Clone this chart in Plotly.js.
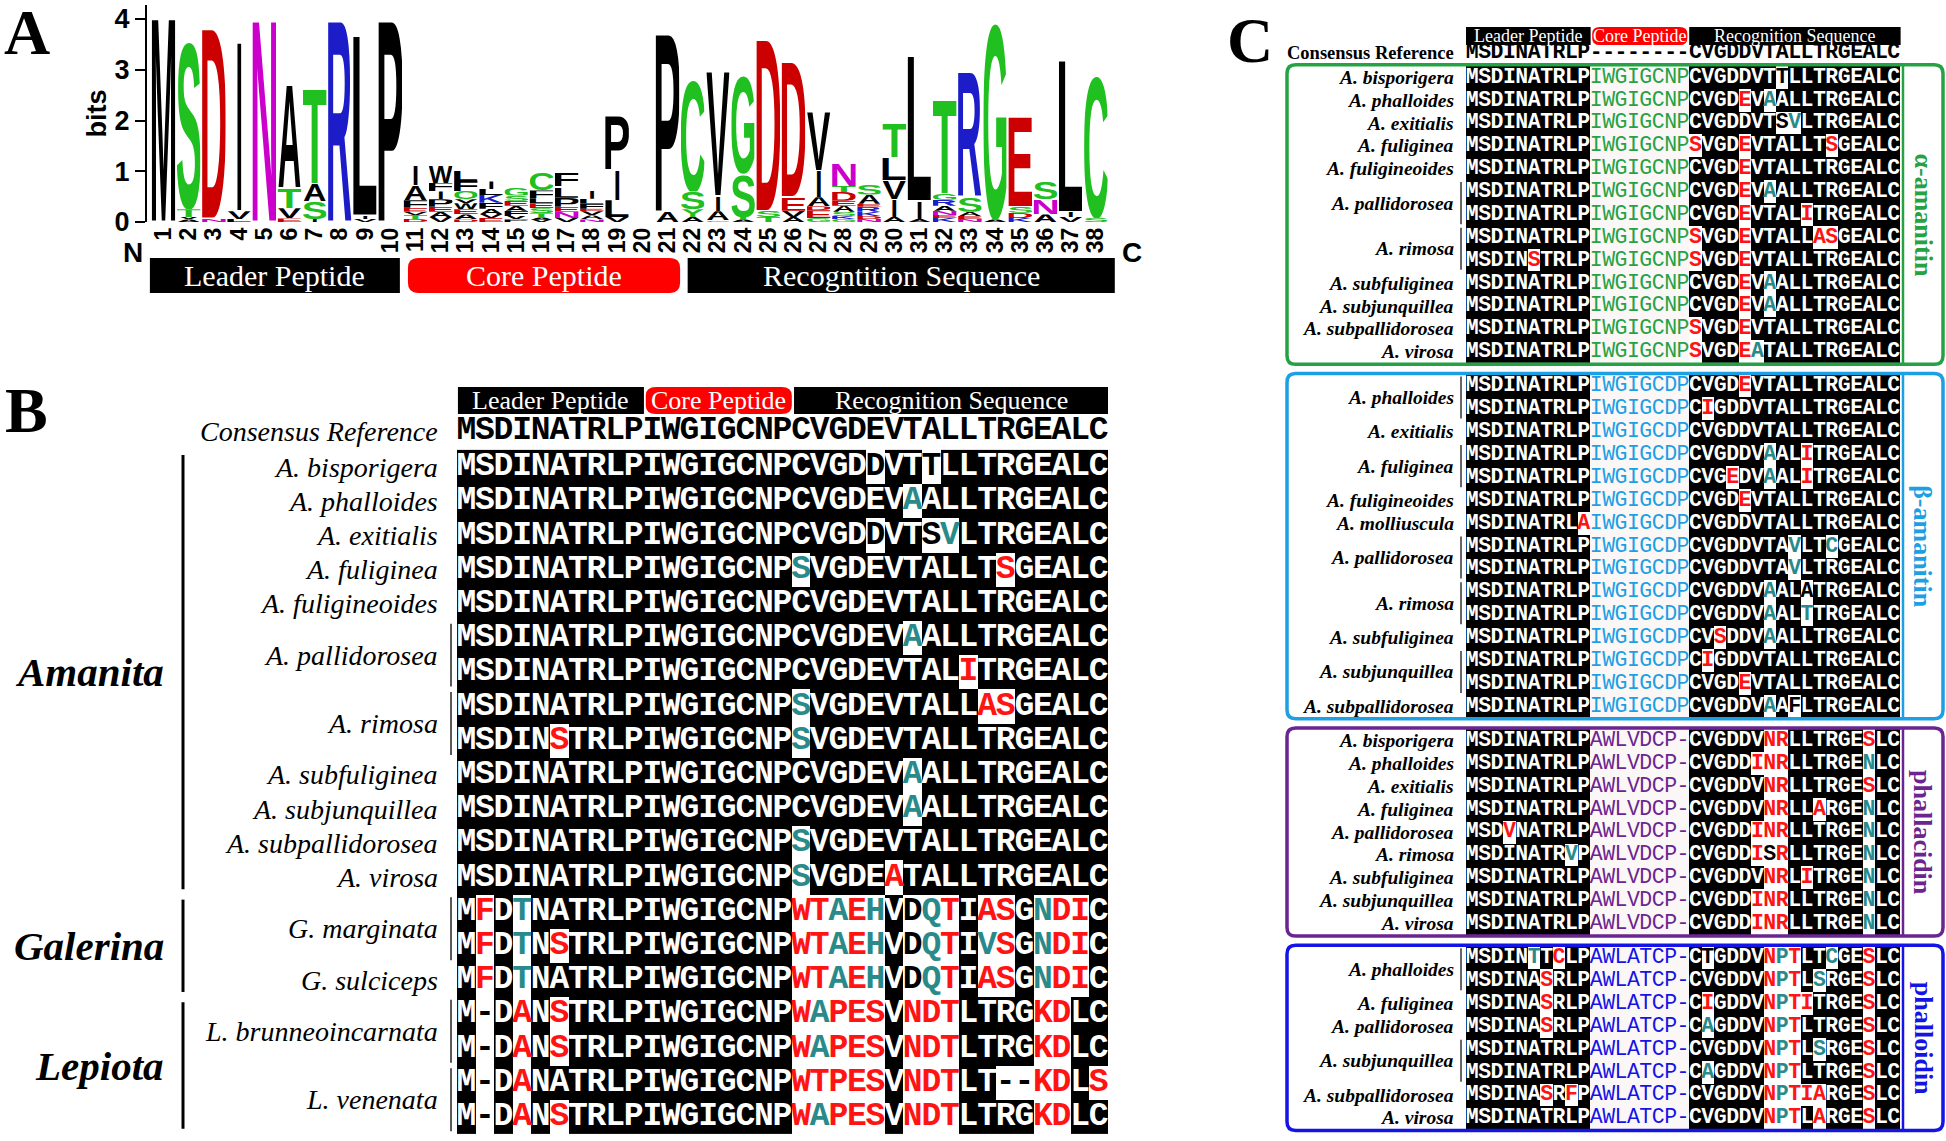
<!DOCTYPE html>
<html>
<head>
<meta charset="utf-8">
<script src="https://cdn.plot.ly/plotly-3.0.1.min.js"></script>
<style>
html,body{margin:0;padding:0;background:#ffffff;}
#chart{width:1946px;height:1141px;}
</style>
</head>
<body>
<div id="chart"></div>
<script>
// ======================= DATA =======================
// Panel A: sequence logo, letters listed bottom -> top, heights in bits
const logoPositions = [1,2,3,4,5,6,7,8,9,10,11,12,13,14,15,16,17,18,19,20,21,22,23,24,25,26,27,28,29,30,31,32,33,34,35,36,37,38];
const logoLetters = [
  ['M'], ['A','V','T','S'], ['N','D'], ['L','V','I'], ['N'],
  ['E','V','T','A'], ['I','S','A','T'], ['R'], ['V','I','L'], ['P'],
  ['D','T','V','E','F','A','I'], ['V','A','E','P','I','F','W'], ['D','A','E','W','V','Q','F','L'],
  ['E','V','A','F','K','L','I'], ['P','V','F','A','E','S','G'], ['V','A','T','S','E','L','F','C'],
  ['V','N','E','P','L','F'], ['N','A','V','E','F','L','I'], ['V','L','I','P'], [],
  ['A','P'], ['A','Y','S','C'], ['G','A','I','V'], ['A','T','S','G'], ['T','S','D'],
  ['A','V','E','D'], ['G','E','D','A','I','V'], ['G','K','S','A','E','D','T','N'],
  ['N','D','K','R','E','A','S'], ['A','I','V','L','T'], ['A','I','L'],
  ['K','E','N','A','R','G','T'], ['N','E','A','S','R'], ['A','G'], ['K','D','S','E'],
  ['A','N','S'], ['V','I','L'], ['S','C']
];
const logoHeights = [
  [4.15], [0.05,0.05,0.15,3.35], [0.06,3.88], [0.06,0.15,3.45], [4.1],
  [0.07,0.2,0.4,2.1], [0.06,0.35,0.35,1.94], [4.1], [0.06,0.06,3.68], [4.1],
  [0.06,0.08,0.06,0.08,0.15,0.3,0.4], [0.1,0.1,0.1,0.15,0.15,0.17,0.35], [0.05,0.1,0.1,0.12,0.08,0.16,0.2,0.2],
  [0.08,0.08,0.1,0.12,0.15,0.12,0.15], [0.05,0.07,0.1,0.1,0.1,0.1,0.15], [0.04,0.05,0.08,0.1,0.1,0.1,0.15,0.35],
  [0.08,0.12,0.1,0.18,0.22,0.27], [0.05,0.08,0.08,0.05,0.1,0.1,0.15], [0.1,0.33,0.6,1.07], [],
  [0.2,3.63], [0.1,0.15,0.35,2.25], [0.03,0.18,0.3,2.55], [0.05,0.05,0.85,1.95], [0.1,0.12,3.5],
  [0.1,0.12,0.27,2.76], [0.08,0.15,0.08,0.18,0.52,1.18], [0.06,0.06,0.08,0.12,0.1,0.17,0.12,0.45],
  [0.06,0.06,0.08,0.1,0.06,0.18,0.2], [0.1,0.35,0.38,0.45,0.69], [0.06,0.35,2.95],
  [0.08,0.06,0.08,0.1,0.12,0.12,1.91], [0.06,0.06,0.08,0.3,2.53], [0.05,3.95], [0.08,0.1,0.12,1.83],
  [0.15,0.3,0.35], [0.1,0.1,3.1], [0.08,2.85]
];
const logoRegions = ['Leader Peptide','Core Peptide','Recogntition Sequence'];

// Panel B: alignment; marks = "column+code" (r: red, t: teal, k: black on white)
const bRegions = ['Leader Peptide','Core Peptide','Recognition Sequence'];
const bConsensus = 'MSDINATRLPIWGIGCNPCVGDEVTALLTRGEALC';
const bSequences = [
  'MSDINATRLPIWGIGCNPCVGDDVTTLLTRGEALC',
  'MSDINATRLPIWGIGCNPCVGDEVAALLTRGEALC',
  'MSDINATRLPIWGIGCNPCVGDDVTSVLTRGEALC',
  'MSDINATRLPIWGIGCNPSVGDEVTALLTSGEALC',
  'MSDINATRLPIWGIGCNPCVGDEVTALLTRGEALC',
  'MSDINATRLPIWGIGCNPCVGDEVAALLTRGEALC',
  'MSDINATRLPIWGIGCNPCVGDEVTALITRGEALC',
  'MSDINATRLPIWGIGCNPSVGDEVTALLASGEALC',
  'MSDINSTRLPIWGIGCNPSVGDEVTALLTRGEALC',
  'MSDINATRLPIWGIGCNPCVGDEVAALLTRGEALC',
  'MSDINATRLPIWGIGCNPCVGDEVAALLTRGEALC',
  'MSDINATRLPIWGIGCNPSVGDEVTALLTRGEALC',
  'MSDINATRLPIWGIGCNPSVGDEATALLTRGEALC',
  'MFDTNATRLPIWGIGCNPWTAEHVDQTIASGNDIC',
  'MFDTNSTRLPIWGIGCNPWTAEHVDQTIVSGNDIC',
  'MFDTNATRLPIWGIGCNPWTAEHVDQTIASGNDIC',
  'M-DANSTRLPIWGIGCNPWAPESVNDTLTRGKDLC',
  'M-DANSTRLPIWGIGCNPWAPESVNDTLTRGKDLC',
  'M-DANATRLPIWGIGCNPWTPESVNDTLT--KDLS',
  'M-DANSTRLPIWGIGCNPWAPESVNDTLTRGKDLC'
];
const bMarks = [
  '22k,25k', '24t', '22k,25k,26t', '18t,29r', '', '24t', '27r', '18t,28r,29r', '5r,18t',
  '24t', '24t', '18t', '18t,23r',
  '1r,3t,18r,19r,20t,21r,22t,24k,25t,26r,28r,29r,31t,32r,33r',
  '1r,3t,5r,18r,19r,20t,21r,22t,24k,25t,26r,28t,29r,31t,32r,33r',
  '1r,3t,18r,19r,20t,21r,22t,24k,25t,26r,28r,29r,31t,32r,33r',
  '1k,3r,5r,18r,19t,20r,21r,22r,24r,25r,26r,31r,32r',
  '1k,3r,5r,18r,19t,20r,21r,22r,24r,25r,26r,31r,32r',
  '1k,3r,18r,19r,20r,21r,22r,24r,25r,26r,29k,30k,31r,32r,34r',
  '1k,3r,5r,18r,19t,20r,21r,22r,24r,25r,26r,31r,32r'
];
const bSpecies = ['A. bisporigera','A. phalloides','A. exitialis','A. fuliginea','A. fuligineoides',
  'A. pallidorosea','A. rimosa','A. subfuliginea','A. subjunquillea','A. subpallidorosea','A. virosa',
  'G. marginata','G. sulciceps','L. brunneoincarnata','L. venenata'];
const bSpeciesRows = [1,1,1,1,1,2,2,1,1,1,1,2,1,2,2];
const bGenera = ['Amanita','Galerina','Lepiota'];
const bGenusRows = [13,3,4];

// Panel C: alignment by toxin
const cConsensus = 'MSDINATRLP--------CVGDDVTALLTRGEALC';
const cGroupNames = ['α-amanitin','β-amanitin','phallacidin','phalloidin'];
const cAlphaSeqs = [
  'MSDINATRLPIWGIGCNPCVGDDVTTLLTRGEALC','MSDINATRLPIWGIGCNPCVGDEVAALLTRGEALC',
  'MSDINATRLPIWGIGCNPCVGDDVTSVLTRGEALC','MSDINATRLPIWGIGCNPSVGDEVTALLTSGEALC',
  'MSDINATRLPIWGIGCNPCVGDEVTALLTRGEALC','MSDINATRLPIWGIGCNPCVGDEVAALLTRGEALC',
  'MSDINATRLPIWGIGCNPCVGDEVTALITRGEALC','MSDINATRLPIWGIGCNPSVGDEVTALLASGEALC',
  'MSDINSTRLPIWGIGCNPSVGDEVTALLTRGEALC','MSDINATRLPIWGIGCNPCVGDEVAALLTRGEALC',
  'MSDINATRLPIWGIGCNPCVGDEVAALLTRGEALC','MSDINATRLPIWGIGCNPSVGDEVTALLTRGEALC',
  'MSDINATRLPIWGIGCNPSVGDEATALLTRGEALC'
];
const cAlphaMarks = ['25k','22r,24t','25k,26t','18r,22r,29r','22r','22r,24t','22r,27r','18r,22r,28r,29r',
  '5r,18r,22r','22r,24t','22r,24t','18r,22r','18r,22r,23t'];
const cAlphaNames = ['A. bisporigera','A. phalloides','A. exitialis','A. fuliginea','A. fuligineoides',
  'A. pallidorosea','A. rimosa','A. subfuliginea','A. subjunquillea','A. subpallidorosea','A. virosa'];
const cAlphaSpans = [1,1,1,1,1,2,2,1,1,1,1];

const cBetaSeqs = [
  'MSDINATRLPIWGIGCDPCVGDEVTALLTRGEALC','MSDINATRLPIWGIGCDPCIGDDVTALLTRGEALC',
  'MSDINATRLPIWGIGCDPCVGDDVTALLTRGEALC','MSDINATRLPIWGIGCDPCVGDDVAALITRGEALC',
  'MSDINATRLPIWGIGCDPCVGEDVAALITRGEALC','MSDINATRLPIWGIGCDPCVGDEVTALLTRGEALC',
  'MSDINATRLAIWGIGCDPCVGDDVTALLTRGEALC','MSDINATRLPIWGIGCDPCVGDDVTAVLTCGEALC',
  'MSDINATRLPIWGIGCDPCVGDDVTAVLTRGEALC','MSDINATRLPIWGIGCDPCVGDDVAALATRGEALC',
  'MSDINATRLPIWGIGCDPCVGDDVAALTTRGEALC','MSDINATRLPIWGIGCDPCVSDDVAALLTRGEALC',
  'MSDINATRLPIWGIGCDPCIGDDVTALLTRGEALC','MSDINATRLPIWGIGCDPCVGDEVTALLTRGEALC',
  'MSDINATRLPIWGIGCDPCVGDDVAAFLTRGEALC'
];
const cBetaMarks = ['22r','19r','','24t,27r','21r,24t,27r','22r','9r','26t,29t','26t','24t,27k','24t,27t',
  '20r,24t','19r','22r','24t,26k'];
const cBetaNames = ['A. phalloides','A. exitialis','A. fuliginea','A. fuligineoides','A. molliuscula',
  'A. pallidorosea','A. rimosa','A. subfuliginea','A. subjunquillea','A. subpallidorosea'];
const cBetaSpans = [2,1,2,1,1,2,2,1,2,1];

const cPhallacidinSeqs = [
  'MSDINATRLPAWLVDCP-CVGDDVNRLLTRGESLC','MSDINATRLPAWLVDCP-CVGDDINRLLTRGENLC',
  'MSDINATRLPAWLVDCP-CVGDDVNRLLTRGESLC','MSDINATRLPAWLVDCP-CVGDDVNRLLARGENLC',
  'MSDVNATRLPAWLVDCP-CVGDDINRLLTRGENLC','MSDINATRVPAWLVDCP-CVGDDISRLLTRGENLC',
  'MSDINATRLPAWLVDCP-CVGDDVNRLITRGENLC','MSDINATRLPAWLVDCP-CVGDDINRLLTRGENLC',
  'MSDINATRLPAWLVDCP-CVGDDINRLLTRGENLC'
];
const cPhallacidinMarks = ['24r,25r,32r','23r,24r,25r,32t','24r,25r,32r','24r,25r,28r,32t',
  '3r,23r,24r,25r,32t','8t,23r,24k,25r,32t','24r,25r,27r,32t','23r,24r,25r,32t','23r,24r,25r,32t'];
const cPhallacidinNames = ['A. bisporigera','A. phalloides','A. exitialis','A. fuliginea','A. pallidorosea',
  'A. rimosa','A. subfuliginea','A. subjunquillea','A. virosa'];
const cPhallacidinSpans = [1,1,1,1,1,1,1,1,1];

const cPhalloidinSeqs = [
  'MSDINTTCLPAWLATCP-CTGDDVNPTLTCGESLC','MSDINASRLPAWLATCP-CVGDDVNPTLSRGESLC',
  'MSDINASRLPAWLATCP-CIGDDVNPTITRGESLC','MSDINASRLPAWLATCP-CAGDDVNPTLTRGESLC',
  'MSDINATRLPAWLATCP-CVGDDVNPTLSRGESLC','MSDINATRLPAWLATCP-CAGDDVNPTLTRGESLC',
  'MSDINASRFPAWLATCP-CVGDDVNPTIARGESLC','MSDINATRLPAWLATCP-CVGDDVNPTLARGESLC'
];
const cPhalloidinMarks = ['5t,7r,19k,24r,25t,26r,29t,32r','6r,24r,25t,26r,28t,32r','6r,19r,24r,25t,26r,27r,32r',
  '6r,19t,24r,25t,26r,32r','24r,25t,26r,28t,32r','19t,24r,25t,26r,32r','6r,8r,24r,25t,26r,27r,28r,32r',
  '24r,25t,26r,28r,32r'];
const cPhalloidinNames = ['A. phalloides','A. fuliginea','A. pallidorosea','A. subjunquillea','A. subpallidorosea','A. virosa'];
const cPhalloidinSpans = [2,1,1,2,1,1];

// ======================= STYLE / GEOMETRY =======================
const W = 1946, H = 1141;
const SERIF = 'Liberation Serif, Times New Roman, serif';
const MONO = 'Liberation Mono, Courier New, monospace';
const SANS = 'Liberation Sans, Arial, Helvetica, sans-serif';
const RED = '#ff1414', TEAL = '#2a8a8a', CORE_RED = '#ff0000', CORE_BG = '#fcf7f7';
const MARK_COLOR = {'.':'#ffffff', r:RED, t:TEAL, k:'#000000'};
const GROUP_COLORS = ['#25a244','#1d9fe3','#6b2590','#1414e6'];

// pixel placement of each panel (value 0 at pixel p0, pitch per unit)
const LOGO_X0 = 138.3, LOGO_DX = 25.2, LOGO_BASE = 222, LOGO_BIT = 50.75;
const B_X0 = 466.3, B_DX = 18.6, B_Y0 = 467, B_DY = 34.2;
const C_X0 = 1472.2, C_DX = 12.4, C_Y0 = 77.3, C_DY = 22.87;
const NCOL = bConsensus.length;
const COLS = [...Array(NCOL).keys()];
const B_FONT = 33, C_FONT = 21.5;

function xRange(p0, d){ return [(0 - p0)/d, (W - p0)/d]; }
function yRangeDown(p0, d){ return [(H - p0)/d, (0 - p0)/d]; }
function parseMarks(s){ const m = {}; if(!s) return m; s.split(',').forEach(t => { m[parseInt(t,10)] = t.replace(/^\d+/, ''); }); return m; }
function roundedPath(x0,x1,y0,y1,rx,ry){
  return `M${x0+rx},${y0} L${x1-rx},${y0} Q${x1},${y0} ${x1},${y0+ry} L${x1},${y1-ry} Q${x1},${y1} ${x1-rx},${y1} `+
         `L${x0+rx},${y1} Q${x0},${y1} ${x0},${y1-ry} L${x0},${y0+ry} Q${x0},${y0} ${x0+rx},${y0} Z`;
}

const traces = [], shapes = [], annotations = [], images = [];
function ann(o){ annotations.push(Object.assign({showarrow:false}, o)); }

// ======================= PANEL A: LOGO =======================
const INK = {A:[0,722],C:[44,680],D:[76,674],E:[76,616],F:[76,570],G:[44,726],H:[74,648],I:[64,208],K:[76,716],
  L:[76,590],M:[70,763],N:[74,648],P:[76,620],Q:[40,740],R:[76,710],S:[30,628],T:[22,588],V:[0,667],W:[5,940],Y:[0,667]};
function logoColor(ch){
  if('DE'.includes(ch)) return '#cc0000';
  if('KRH'.includes(ch)) return '#1c1cc8';
  if('GSTYCQ'.includes(ch)) return '#21c021';
  if(ch === 'N') return '#cc00cc';
  return '#000000';
}
function glyphURI(ch, color){
  let [a,b] = INK[ch] || [40,680];
  a /= 10; b /= 10;
  if(ch === 'I'){ const c = (a+b)/2; a = c-46; b = c+46; }
  const svg = `<svg xmlns="http://www.w3.org/2000/svg" width="100" height="100" viewBox="${a} -71.8 ${b-a} 72.3" preserveAspectRatio="none">`+
    `<text x="0" y="0" font-family="Liberation Sans, Arial, Helvetica, sans-serif" font-weight="700" font-size="100" fill="${color}">${ch}</text></svg>`;
  return 'data:image/svg+xml;charset=utf-8,' + encodeURIComponent(svg);
}
const logoTotals = logoHeights.map(a => a.reduce((s,v)=>s+v,0));
logoPositions.forEach((p,i) => {
  let base = 0;
  logoLetters[i].forEach((ch,j) => {
    const h = logoHeights[i][j];
    images.push({source: glyphURI(ch, logoColor(ch)), xref:'x', yref:'y', x: p-0.5+0.035, y: base+h,
      sizex: 0.93, sizey: h, xanchor:'left', yanchor:'top', sizing:'stretch', layer:'above'});
    base += h;
  });
});
traces.push({type:'scatter', x: logoPositions, y: logoTotals, mode:'markers', marker:{opacity:0, size:1},
  xaxis:'x', yaxis:'y', hoverinfo:'skip'});
traces.push({type:'scatter', x:[], y:[], mode:'markers', xaxis:'x4', yaxis:'y4', hoverinfo:'skip'});

// header bars under logo (overlay axes x4/y4 share the logo scale)
const aBars = [[0.46,10.38],[10.7,21.5],[21.8,38.75]];
const aY0 = (LOGO_BASE-293)/LOGO_BIT, aY1 = (LOGO_BASE-258)/LOGO_BIT;
aBars.forEach((b,i) => {
  if(i === 1){
    shapes.push({type:'path', xref:'x4', yref:'y4', path: roundedPath(b[0],b[1],aY0,aY1,0.4,0.2), fillcolor:CORE_RED, line:{width:0}});
  } else {
    shapes.push({type:'rect', xref:'x4', yref:'y4', x0:b[0], x1:b[1], y0:aY0, y1:aY1, fillcolor:'#000000', line:{width:0}});
  }
  ann({xref:'x4', yref:'y4', x:(b[0]+b[1])/2, y:(aY0+aY1)/2, text:logoRegions[i], font:{family:SERIF, size:30, color:'#ffffff'}, xanchor:'center', yanchor:'middle'});
});
ann({xref:'x4', yref:'y4', x:(133-LOGO_X0)/LOGO_DX, y:(LOGO_BASE-252)/LOGO_BIT, text:'N', font:{family:SANS, size:28, weight:'bold', color:'#000'}, xanchor:'center', yanchor:'middle'});
ann({xref:'x4', yref:'y4', x:(1132-LOGO_X0)/LOGO_DX, y:(LOGO_BASE-252)/LOGO_BIT, text:'C', font:{family:SANS, size:28, weight:'bold', color:'#000'}, xanchor:'center', yanchor:'middle'});

// ======================= PANEL B =======================
const bZ = [], bY = [];
const bTX = [], bTY = [], bTS = [], bTC = [];
bSequences.forEach((seq, r) => {
  const m = parseMarks(bMarks[r]);
  const zr = [];
  for(let c = 0; c < seq.length; c++){
    const code = m[c] || '.';
    zr.push(code === '.' ? 1 : 0);
    bTX.push(c); bTY.push(r); bTS.push(seq[c]); bTC.push(MARK_COLOR[code]);
  }
  bZ.push(zr); bY.push(r);
});
traces.push({type:'heatmap', x: COLS, y: bY, z: bZ, xaxis:'x2', yaxis:'y2', zmin:0, zmax:1,
  colorscale:[[0,'#ffffff'],[0.5,'#ffffff'],[0.5,'#000000'],[1,'#000000']], showscale:false, hoverinfo:'skip'});
traces.push({type:'scatter', mode:'text', x: bTX, y: bTY, text: bTS, xaxis:'x2', yaxis:'y2', hoverinfo:'skip',
  textposition:'middle center', textfont:{family:MONO, size:B_FONT, weight:'bold', color: bTC}});
const bConsY = (431 - B_Y0)/B_DY;
traces.push({type:'scatter', mode:'text', x: COLS, y: COLS.map(()=>bConsY), text: bConsensus.split(''), xaxis:'x2', yaxis:'y2',
  hoverinfo:'skip', textposition:'middle center', textfont:{family:MONO, size:B_FONT, weight:'bold', color:'#000000'}});
ann({xref:'x2', yref:'y2', x:(440-B_X0)/B_DX, y:bConsY, text:'Consensus Reference', xanchor:'right', yanchor:'middle',
  font:{family:SERIF, size:28, style:'italic', color:'#000'}});

// header bars
const bHY0 = (387 - B_Y0)/B_DY, bHY1 = (414 - B_Y0)/B_DY;
const bBars = [[-0.45,9.55],[9.65,17.5],[17.62,34.5]];
bBars.forEach((b,i) => {
  if(i === 1){
    shapes.push({type:'path', xref:'x2', yref:'y2', path: roundedPath(b[0],b[1],bHY0,bHY1,0.55,0.25), fillcolor:CORE_RED, line:{width:0}});
  } else {
    shapes.push({type:'rect', xref:'x2', yref:'y2', x0:b[0], x1:b[1], y0:bHY0, y1:bHY1, fillcolor:'#000000', line:{width:0}});
  }
  ann({xref:'x2', yref:'y2', x:(b[0]+b[1])/2, y:(bHY0+bHY1)/2, text:bRegions[i], xanchor:'center', yanchor:'middle',
    font:{family:SERIF, size:26, color:'#ffffff'}});
});
// species labels and brackets
{
  let r = 0;
  bSpecies.forEach((name, i) => {
    const n = bSpeciesRows[i];
    ann({xref:'x2', yref:'y2', x:(440-B_X0)/B_DX, y: r + (n-1)/2, text:name, xanchor:'right', yanchor:'middle',
      font:{family:SERIF, size:28, style:'italic', color:'#000'}});
    if(n > 1){
      shapes.push({type:'line', xref:'x2', yref:'y2', x0:(451-B_X0)/B_DX, x1:(451-B_X0)/B_DX, y0:r-0.42, y1:r+n-1+0.42,
        line:{color:'#222', width:1.5}});
    }
    r += n;
  });
  r = 0;
  bGenera.forEach((g, i) => {
    const n = bGenusRows[i];
    const lx = (183-B_X0)/B_DX;
    shapes.push({type:'line', xref:'x2', yref:'y2', x0:lx, x1:lx, y0:r-0.35, y1:r+n-1+0.35, line:{color:'#000', width:3}});
    ann({xref:'x2', yref:'y2', x:(166-B_X0)/B_DX, y:r+(n-1)/2, text:g, xanchor:'right', yanchor:'middle',
      font:{family:SERIF, size:41, style:'italic', weight:'bold', color:'#000'}});
    r += n;
  });
}

// ======================= PANEL C =======================
const cGroups = [
  {seqs:cAlphaSeqs, marks:cAlphaMarks, names:cAlphaNames, spans:cAlphaSpans},
  {seqs:cBetaSeqs, marks:cBetaMarks, names:cBetaNames, spans:cBetaSpans},
  {seqs:cPhallacidinSeqs, marks:cPhallacidinMarks, names:cPhallacidinNames, spans:cPhallacidinSpans},
  {seqs:cPhalloidinSeqs, marks:cPhalloidinMarks, names:cPhalloidinNames, spans:cPhalloidinSpans}
];
const CORE_COLS = [10,17];
const cBoldX=[], cBoldY=[], cBoldS=[], cBoldC=[];
const cCoreX=[], cCoreY=[], cCoreS=[], cCoreC=[];
let start = 0;
const labX = (1456 - C_X0)/C_DX, brX = (1461 - C_X0)/C_DX;
const boxX0 = (1287 - C_X0)/C_DX, boxX1 = (1943 - C_X0)/C_DX, sepX = (1903 - C_X0)/C_DX;
cGroups.forEach((g, gi) => {
  const col = GROUP_COLORS[gi];
  const z = [], ys = [];
  g.seqs.forEach((seq, i) => {
    const y = start + i; ys.push(y);
    const m = parseMarks(g.marks[i]);
    const zr = [];
    for(let c = 0; c < seq.length; c++){
      const isCore = c >= CORE_COLS[0] && c <= CORE_COLS[1];
      if(isCore){
        zr.push(2);
        cCoreX.push(c); cCoreY.push(y); cCoreS.push(seq[c]); cCoreC.push(col);
      } else {
        const code = m[c] || '.';
        zr.push(code === '.' ? 1 : 0);
        cBoldX.push(c); cBoldY.push(y); cBoldS.push(seq[c]); cBoldC.push(MARK_COLOR[code]);
      }
    }
    z.push(zr);
  });
  traces.push({type:'heatmap', x: COLS, y: ys, z: z, xaxis:'x3', yaxis:'y3', zmin:0, zmax:2, showscale:false, hoverinfo:'skip',
    colorscale:[[0,'#ffffff'],[0.25,'#ffffff'],[0.25,'#000000'],[0.75,'#000000'],[0.75,CORE_BG],[1,CORE_BG]]});
  // labels
  let r = start;
  g.names.forEach((name, i) => {
    const n = g.spans[i];
    ann({xref:'x3', yref:'y3', x:labX, y:r+(n-1)/2, text:name, xanchor:'right', yanchor:'middle',
      font:{family:SERIF, size:19.5, style:'italic', weight:'bold', color:'#000'}});
    if(n > 1){
      shapes.push({type:'line', xref:'x3', yref:'y3', x0:brX, x1:brX, y0:r-0.42, y1:r+n-1+0.42, line:{color:'#333', width:1.5}});
    }
    r += n;
  });
  const yTop = start - 0.55, yBot = start + g.seqs.length - 1 + 0.55;
  shapes.push({type:'path', xref:'x3', yref:'y3', path: roundedPath(boxX0, boxX1, yTop, yBot, 0.7, 0.38),
    line:{color:col, width:3.5}, fillcolor:'rgba(0,0,0,0)'});
  shapes.push({type:'line', xref:'x3', yref:'y3', x0:sepX, x1:sepX, y0:yTop, y1:yBot, line:{color:col, width:2.5}});
  ann({xref:'x3', yref:'y3', x:(1923 - C_X0)/C_DX, y:(yTop+yBot)/2, text:cGroupNames[gi], textangle:90,
    xanchor:'center', yanchor:'middle', font:{family:SERIF, size:26, weight:'bold', color:col}});
  start += g.seqs.length + 0.5;
});
traces.push({type:'scatter', mode:'text', x:cBoldX, y:cBoldY, text:cBoldS, xaxis:'x3', yaxis:'y3', hoverinfo:'skip',
  textposition:'middle center', textfont:{family:MONO, size:C_FONT, weight:'bold', color:cBoldC}});
traces.push({type:'scatter', mode:'text', x:cCoreX, y:cCoreY, text:cCoreS, xaxis:'x3', yaxis:'y3', hoverinfo:'skip',
  textposition:'middle center', textfont:{family:MONO, size:C_FONT, weight:'normal', color:cCoreC}});
const cConsY = (53 - C_Y0)/C_DY;
traces.push({type:'scatter', mode:'text', x:COLS, y:COLS.map(()=>cConsY), text:cConsensus.split(''), xaxis:'x3', yaxis:'y3',
  hoverinfo:'skip', textposition:'middle center', textfont:{family:MONO, size:C_FONT, weight:'bold', color:'#000000'}});
ann({xref:'x3', yref:'y3', x:labX, y:cConsY, text:'Consensus Reference', xanchor:'right', yanchor:'middle',
  font:{family:SERIF, size:18.5, weight:'bold', color:'#000'}});
const cHY0 = (27 - C_Y0)/C_DY, cHY1 = (45 - C_Y0)/C_DY;
const cBars = [[-0.5,9.55],[9.68,17.35],[17.5,34.55]];
cBars.forEach((b,i) => {
  if(i === 1){
    shapes.push({type:'path', xref:'x3', yref:'y3', path: roundedPath(b[0],b[1],cHY0,cHY1,0.6,0.3), fillcolor:CORE_RED, line:{width:0}});
  } else {
    shapes.push({type:'rect', xref:'x3', yref:'y3', x0:b[0], x1:b[1], y0:cHY0, y1:cHY1, fillcolor:'#000000', line:{width:0}});
  }
  ann({xref:'x3', yref:'y3', x:(b[0]+b[1])/2, y:(cHY0+cHY1)/2, text:bRegions[i], xanchor:'center', yanchor:'middle',
    font:{family:SERIF, size:18, color:'#ffffff'}});
});

// Panel letters
ann({xref:'paper', yref:'paper', x:27/W, y:1-33/H, text:'A', xanchor:'center', yanchor:'middle', font:{family:SERIF, size:64, weight:'bold', color:'#000'}});
ann({xref:'paper', yref:'paper', x:26/W, y:1-410/H, text:'B', xanchor:'center', yanchor:'middle', font:{family:SERIF, size:64, weight:'bold', color:'#000'}});
ann({xref:'paper', yref:'paper', x:1250/W, y:1-40/H, text:'C', xanchor:'center', yanchor:'middle', font:{family:SERIF, size:64, weight:'bold', color:'#000'}});

// ======================= LAYOUT =======================
const hidden = {visible:false, fixedrange:true, showgrid:false, zeroline:false};
const layout = {
  width: W, height: H, autosize:false,
  margin:{l:0, r:0, t:0, b:0, pad:0},
  paper_bgcolor:'#ffffff', plot_bgcolor:'rgba(0,0,0,0)',
  showlegend:false,
  xaxis:{domain:[147/W, 1112/W], anchor:'y', range:[(147-LOGO_X0)/LOGO_DX, (1112-LOGO_X0)/LOGO_DX],
    tickmode:'array', tickvals:logoPositions, ticktext:logoPositions.map(String), tickangle:-90,
    tickfont:{family:SANS, size:23, weight:'bold', color:'#000'}, ticks:'', showline:false, showgrid:false, zeroline:false, fixedrange:true},
  yaxis:{domain:[1-222/H, 1-5/H], anchor:'x', range:[0, (222-5)/LOGO_BIT], tickmode:'array', tickvals:[0,1,2,3,4],
    ticks:'outside', ticklen:10, tickwidth:2, tickcolor:'#000', showline:true, linewidth:2, linecolor:'#000',
    showgrid:false, zeroline:false, fixedrange:true,
    tickfont:{family:SANS, size:27, weight:'bold', color:'#000'},
    title:{text:'bits', font:{family:SANS, size:27, weight:'bold', color:'#000'}, standoff:0}},
  xaxis2:Object.assign({domain:[0,1], anchor:'y2', range:xRange(B_X0,B_DX)}, hidden),
  yaxis2:Object.assign({domain:[0,1], anchor:'x2', range:yRangeDown(B_Y0,B_DY)}, hidden),
  xaxis3:Object.assign({domain:[0,1], anchor:'y3', range:xRange(C_X0,C_DX)}, hidden),
  yaxis3:Object.assign({domain:[0,1], anchor:'x3', range:yRangeDown(C_Y0,C_DY)}, hidden),
  xaxis4:Object.assign({domain:[0,1], anchor:'y4', range:xRange(LOGO_X0,LOGO_DX)}, hidden),
  yaxis4:Object.assign({domain:[0,1], anchor:'x4', range:[(LOGO_BASE-H)/LOGO_BIT, LOGO_BASE/LOGO_BIT]}, hidden),
  shapes: shapes, annotations: annotations, images: images
};
Plotly.newPlot('chart', traces, layout, {staticPlot:true, displayModeBar:false, responsive:false});
</script>
</body>
</html>
